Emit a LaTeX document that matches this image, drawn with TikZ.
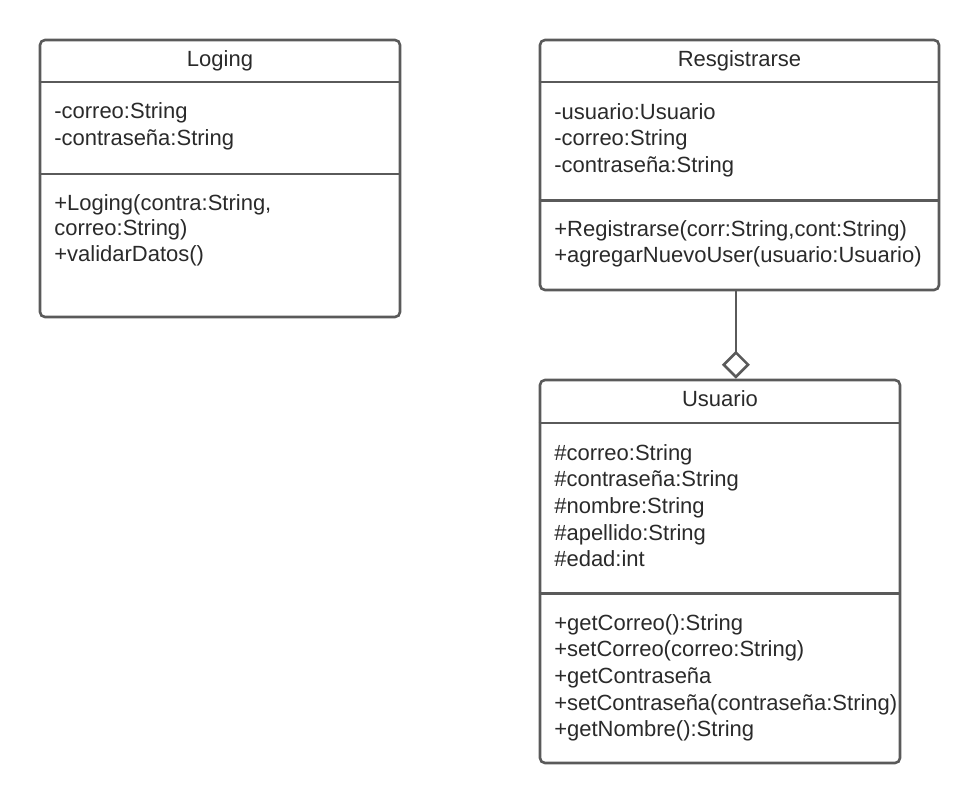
\documentclass[tikz,border=0pt]{standalone}
\usepackage{fontspec}
\setmainfont{Liberation Sans}
\usetikzlibrary{arrows.meta,calc,positioning}
\definecolor{umlline}{HTML}{5A5A5A}
\definecolor{umltext}{HTML}{2A2A2A}

\begin{document}
\begin{tikzpicture}[
    x = 1pt, y = -1pt, % pixel units, y runs downwards
    line width = 2.6pt, % line style
    font = \fontsize{22}{26}\selectfont
    ]

    \tikzset{classbox/.style={
    draw = umlline,
    rounded corners = 5pt,
    inner sep = 0pt
    }}
    \tikzset{classname/.style={anchor = base, inner sep = 0pt, text = umltext}}
    \tikzset{member/.style={anchor = base west, inner sep = 0pt, text = umltext}}
    \tikzset{divider/.style={draw = umlline, line cap = butt}}
    \tikzset{aggregation/.style={draw = umlline, -{Diamond[open, length = 28pt, width = 28pt]}}}

    \useasboundingbox (0,0) rectangle (980,804);

    % Loging
    \node[classbox, minimum width = 360pt, minimum height = 277pt] (loging) at (220,178.5) {};
    \node[classname] (logingName) at (220,66) {Loging};
    \draw[divider] (loging.west |- 0,82) -- (loging.east |- 0,82);
    \draw[divider] (loging.west |- 0,174) -- (loging.east |- 0,174);
    \foreach \m [count=\i] in {-correo:String, -contraseña:String}
        \node[member] (logingA\i) at (53,{118+27*(\i-1)}) {\m};
    \foreach \m [count=\i] in {{+Loging(contra:String,}, correo:String), +validarDatos()}
        \node[member] (logingM\i) at (53,{210+25.7*(\i-1)}) {\m};

    % Resgistrarse
    \node[classbox, minimum width = 399pt, minimum height = 250pt] (reg) at (739.5,165) {};
    \node[classname] (regName) at (739.5,66) {Resgistrarse};
    \draw[divider] (reg.west |- 0,82) -- (reg.east |- 0,82);
    \draw[divider] (reg.west |- 0,200.5) -- (reg.east |- 0,200.5);
    \foreach \m [count=\i] in {-usuario:Usuario, -correo:String, -contraseña:String}
        \node[member] (regA\i) at (553,{119+26.5*(\i-1)}) {\m};
    \foreach \m [count=\i] in {{+Registrarse(corr:String,cont:String)}, +agregarNuevoUser(usuario:Usuario)}
        \node[member] (regM\i) at (553,{236.5+26*(\i-1)}) {\m};

    % Usuario
    \node[classbox, minimum width = 360pt, minimum height = 383pt] (usu) at (720,571.5) {};
    \node[classname] (usuName) at (720,406) {Usuario};
    \draw[divider] (usu.west |- 0,423) -- (usu.east |- 0,423);
    \draw[divider] (usu.west |- 0,593.5) -- (usu.east |- 0,593.5);
    \foreach \m [count=\i] in {\#correo:String, \#contraseña:String, \#nombre:String, \#apellido:String, \#edad:int}
        \node[member] (usuA\i) at (553,{460+26.7*(\i-1)}) {\m};
    \foreach \m [count=\i] in {+getCorreo():String, +setCorreo(correo:String), +getContraseña, +setContraseña(contraseña:String), +getNombre():String}
        \node[member] (usuM\i) at (553,{630+26.7*(\i-1)}) {\m};

    % Resgistrarse <>-- Usuario
    \coordinate (regFoot) at ($(reg.south west)!0.491!(reg.south east)$);
    \draw[aggregation] (regFoot) -- (regFoot |- usu.north);
\end{tikzpicture}
\end{document}
